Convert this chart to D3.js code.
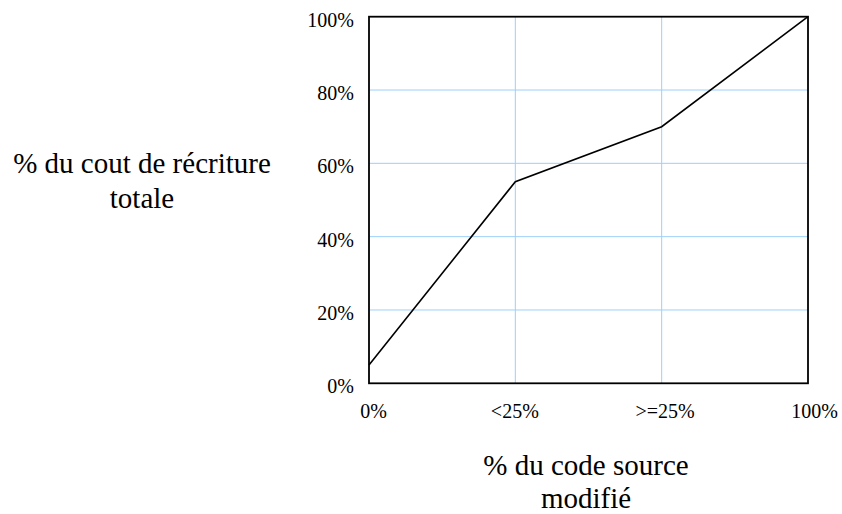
<!DOCTYPE html>
<html>
<head>
<meta charset="utf-8">
<script src="https://cdn.jsdelivr.net/npm/d3@7/dist/d3.min.js"></script>
<style>
  html, body { margin: 0; padding: 0; background: #fff; }
  svg { display: block; }
  text { font-family: "Liberation Serif", "Times New Roman", serif; fill: #000; }
</style>
</head>
<body>
<script>
const categories = ["0%", "<25%", ">=25%", "100%"];
const costValues = [5, 55, 70, 100];
const yTicks = [0, 20, 40, 60, 80, 100];
const yTitle = ["% du cout de récriture", "totale"];
const xTitle = ["% du code source", "modifié"];

const W = 842, H = 514;
const margin = { left: 369, right: 34, top: 16.7, bottom: 130.7 };
const FONT = '"Liberation Serif", "Times New Roman", serif';

const svg = d3.select("body").append("svg").attr("width", W).attr("height", H);

const x = d3.scalePoint().domain(categories).range([margin.left, W - margin.right]);
const y = d3.scaleLinear().domain([0, 100]).range([H - margin.bottom, margin.top]);

const gridColor = "#9dd0fb";

// horizontal grid
svg.append("g").selectAll("line")
  .data(yTicks.filter(d => d > 0 && d < 100))
  .join("line")
  .attr("x1", x.range()[0]).attr("x2", x.range()[1])
  .attr("y1", d => y(d)).attr("y2", d => y(d))
  .attr("stroke", gridColor).attr("stroke-width", 1);

// vertical grid
svg.append("g").selectAll("line")
  .data(categories.slice(1, -1))
  .join("line")
  .attr("x1", d => x(d)).attr("x2", d => x(d))
  .attr("y1", y(0)).attr("y2", y(100))
  .attr("stroke", gridColor).attr("stroke-width", 1);

// data line
const line = d3.line().x((d, i) => x(categories[i])).y(d => y(d));
svg.append("path")
  .datum(costValues)
  .attr("d", line)
  .attr("fill", "none")
  .attr("stroke", "#000")
  .attr("stroke-width", 1.6)
  .attr("stroke-linejoin", "miter");

// frame
svg.append("rect")
  .attr("x", x.range()[0]).attr("y", y(100))
  .attr("width", x.range()[1] - x.range()[0])
  .attr("height", y(0) - y(100))
  .attr("fill", "none").attr("stroke", "#000").attr("stroke-width", 1.8);

// y axis
const yAxis = svg.append("g")
  .attr("transform", `translate(${margin.left},0)`)
  .call(d3.axisLeft(y).tickValues(yTicks).tickSize(0).tickPadding(15).tickFormat(d => d + "%"));
yAxis.select(".domain").remove();
yAxis.selectAll("text").attr("font-size", 20).attr("dy", "0.48em")
  .style("font-family", FONT);

// x axis
const xAxis = svg.append("g")
  .attr("transform", `translate(0,${y(0)})`)
  .call(d3.axisBottom(x).tickSize(0).tickPadding(21));
xAxis.select(".domain").remove();
xAxis.selectAll("text").attr("font-size", 20)
  .attr("dx", (d, i) => [4, -1, 3, 6][i])
  .style("font-family", FONT);

// y title
svg.append("text")
  .attr("text-anchor", "middle")
  .attr("font-size", 29)
  .selectAll("tspan").data(yTitle).join("tspan")
  .attr("x", 142).attr("y", (d, i) => 173 + i * 35)
  .text(d => d);

// x title
svg.append("text")
  .attr("text-anchor", "middle")
  .attr("font-size", 29)
  .selectAll("tspan").data(xTitle).join("tspan")
  .attr("x", 586).attr("y", (d, i) => 475 + i * 33)
  .text(d => d);
</script>
</body>
</html>
